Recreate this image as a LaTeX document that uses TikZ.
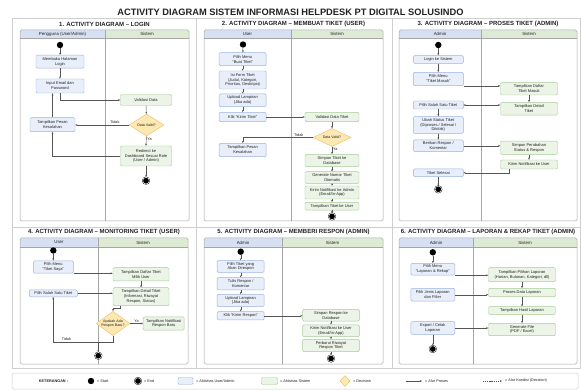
\documentclass[tikz,border=0pt]{standalone}
\usepackage{fontspec}
\setmainfont{Liberation Sans}
\usetikzlibrary{shapes.geometric,arrows.meta,calc}
\definecolor{hb}{HTML}{D6E0F2}
\definecolor{hg}{HTML}{DDEBD5}
\definecolor{ubf}{HTML}{E9EFFA}
\definecolor{ubd}{HTML}{9DB3DD}
\definecolor{sbf}{HTML}{EBF4E6}
\definecolor{sbd}{HTML}{A7CC98}
\definecolor{yfl}{HTML}{FDE8B4}
\definecolor{ydr}{HTML}{E9C46A}
\definecolor{lanec}{HTML}{A6A6A6}
\definecolor{framec}{HTML}{CFCFCF}
\definecolor{arrc}{HTML}{555555}
\definecolor{txt}{HTML}{222222}
\newcommand\nodefnt{\fontsize{4}{4.9}\selectfont}
\newcommand\decfnt{\fontsize{3.6}{4.4}\selectfont}
\newcommand\lblfnt{\fontsize{3.8}{4.5}\selectfont}
\newcommand\headfnt{\fontsize{4.4}{5}\selectfont}
\newcommand\ptitlefnt{\fontsize{6}{7}\selectfont\bfseries}
\newcommand\lanepair[9]{%
  \begin{scope}
    \clip[rounded corners=1.5pt] (#2,#5) rectangle (#4,#7);
    \fill[hb] (#2,#5) rectangle (#3,#6);
    \fill[hg] (#3,#5) rectangle (#4,#6);
    \fill[white] (#2,#6) rectangle (#4,#7);
  \end{scope}
  \draw[laneline] (#2,#6) -- (#4,#6);
  \draw[laneline] (#3,#5) -- (#3,#7);
  \draw[laneline, rounded corners=1.5pt] (#2,#5) rectangle (#4,#7);
  \node[lanehead] (#1l) at ({(#2+#3)/2},{(#5+#6)/2}) {#8};
  \node[lanehead] (#1r) at ({(#3+#4)/2},{(#5+#6)/2}) {#9};
}
\tikzset{
  wh/.style 2 args={minimum width=#1pt, minimum height=#2pt},
  ua/.style={draw=ubd, fill=ubf, rounded corners=1.2pt, line width=0.45pt, align=center, font=\nodefnt, inner sep=0.6pt, text=txt},
  sa/.style={draw=sbd, fill=sbf, rounded corners=1.2pt, line width=0.45pt, align=center, font=\nodefnt, inner sep=0.6pt, text=txt},
  dec/.style={diamond, draw=ydr, fill=yfl, line width=0.45pt, align=center, font=\decfnt, inner sep=0pt, aspect=1.4, text=txt},
  startc/.style={circle, fill=black, minimum size=6.4pt, inner sep=0pt},
  endc/.style={circle, fill=black, draw=black, double=white, double distance=0.5pt, line width=0.4pt, minimum size=6.6pt, inner sep=0pt},
  arr/.style={draw=arrc, line width=0.4pt, -{Stealth[length=2.2pt,width=1.8pt]}},
  darr/.style={draw=arrc, line width=0.4pt, {Stealth[length=2.2pt,width=1.8pt]}-{Stealth[length=2.2pt,width=1.8pt]}},
  lbl/.style={font=\lblfnt, text=txt, inner sep=0.8pt},
  laneline/.style={draw=lanec, line width=0.5pt},
  lanehead/.style={font=\headfnt, text=txt, inner sep=0pt},
  frame/.style={draw=framec, line width=0.5pt},
  ptitle/.style={font=\ptitlefnt, text=txt, inner sep=0pt},
  lgt/.style={font=\lblfnt, text=txt, inner sep=0pt, anchor=west},
}
\begin{document}
\begin{tikzpicture}[x=1pt,y=-1pt]
\useasboundingbox (0,0) rectangle (581,390);
\fill[white] (0,0) rectangle (581,390);
% main title
\node[font=\fontsize{9.3}{11}\selectfont\bfseries, text=txt, inner sep=0pt] (title) at (290.5,12) {ACTIVITY DIAGRAM SISTEM INFORMASI HELPDESK PT DIGITAL SOLUSINDO};
% panel frames
\draw[frame] (12,18) rectangle (196,227);
\draw[frame] (196,18) rectangle (392,227);
\draw[frame] (392,18) rectangle (580,227);
\draw[frame] (12,227) rectangle (196,368);
\draw[frame] (196,227) rectangle (392,368);
\draw[frame] (392,227) rectangle (580,368);
% panel titles
\node[ptitle] (t1) at (104.5,24) {1. ACTIVITY DIAGRAM – LOGIN};
\node[ptitle] (t2) at (293.5,24) {2. ACTIVITY DIAGRAM – MEMBUAT TIKET (USER)};
\node[ptitle] (t3) at (488,24) {3. ACTIVITY DIAGRAM – PROSES TIKET (ADMIN)};
\node[ptitle] (t4) at (104,232) {4. ACTIVITY DIAGRAM – MONITORING TIKET (USER)};
\node[ptitle] (t5) at (293.5,232) {5. ACTIVITY DIAGRAM – MEMBERI RESPON (ADMIN)};
\node[ptitle] (t6) at (488,232) {6. ACTIVITY DIAGRAM – LAPORAN \& REKAP TIKET (ADMIN)};
% lanes
\lanepair{p1}{20}{105}{189}{30}{38.5}{221}{Pengguna (User/Admin)}{Sistem}
\lanepair{p2}{204}{291}{383}{30}{38.5}{221}{User}{Sistem}
\lanepair{p3}{399}{481}{577}{30}{38.5}{221}{Admin}{Sistem}
\lanepair{p4}{20}{98}{188}{238}{247}{364}{User}{Sistem}
\lanepair{p5}{204}{282}{383}{238}{247}{364}{Admin}{Sistem}
\lanepair{p6}{399}{473}{577}{238}{247}{364}{Admin}{Sistem}

% ---------- Panel 1 ----------
\node[startc] (p1s) at (60,45) {};
\node[ua, wh={48}{13}] (p1a) at (60,61.7) {Membuka Halaman\\Login};
\node[ua, wh={48}{14}] (p1b) at (60,86) {Input Email dan\\Password};
\node[sa, wh={51}{11}] (p1c) at (146,100) {Validasi Data};
\node[dec, wh={35}{22}] (p1d) at (146.5,125) {Data Valid?};
\node[ua, wh={45}{14}] (p1e) at (52.5,124.7) {Tampilkan Pesan\\Kesalahan};
\node[sa, wh={51}{20}] (p1f) at (146,156) {Redirect ke\\Dashboard Sesuai Role\\(User / Admin)};
\node[endc] (p1z) at (146,180.7) {};
\draw[arr] (p1s) -- (p1a);
\draw[arr] (p1a) -- (p1b);
\draw[arr] (p1b.south) |- (p1c.west);
\draw[arr] (p1c) -- (p1d);
\draw[arr] (p1d.west) -- node[lbl, above, pos=0.26] {Tidak} (p1d.west -| p1e.east);
\draw[arr] (p1e.north) -- (p1e.north |- p1b.south);
\draw[arr] (p1d.south) -- node[lbl, right, pos=0.35] {Ya} (p1f.north);
\draw[arr] (p1f.west) -| (p1e.south);
\draw[arr] (p1f) -- (p1z);

% ---------- Panel 2 ----------
\node[startc] (p2s) at (243,44.5) {};
\node[ua, wh={47}{13}] (p2a) at (242.7,59.2) {Pilih Menu\\“Buat Tiket”};
\node[ua, wh={47}{18}] (p2b) at (242.7,80) {Isi Form Tiket\\(Judul, Kategori,\\Prioritas, Deskripsi)};
\node[ua, wh={47}{12.7}] (p2c) at (242.7,100.3) {Upload Lampiran\\(Jika ada)};
\node[ua, wh={47}{9.3}] (p2d) at (242.7,117) {Klik “Kirim Tiket”};
\node[sa, wh={54}{9.3}] (p2e) at (332,117) {Validasi Data Tiket};
\node[dec, wh={38}{18}] (p2f) at (332,137.5) {Data Valid?};
\node[ua, wh={47}{13.4}] (p2g) at (242.7,150) {Tampilkan Pesan\\Kesalahan};
\node[sa, wh={54}{12.4}] (p2h) at (332,160.5) {Simpan Tiket ke\\Database};
\node[sa, wh={54}{11.6}] (p2i) at (332,177.5) {Generate Nomor Tiket\\Otomatis};
\node[sa, wh={54}{13}] (p2j) at (332,192.5) {Kirim Notifikasi ke Admin\\(Email/In-App)};
\node[sa, wh={54}{7.7}] (p2k) at (332,206.2) {Tampilkan Tiket ke User};
\node[endc] (p2z) at (332,216.4) {};
\draw[arr] (p2s) -- (p2a);
\draw[arr] (p2a) -- (p2b);
\draw[arr] (p2b) -- (p2c);
\draw[arr] (p2c) -- (p2d);
\draw[arr] (p2d) -- (p2e);
\draw[arr] (p2e) -- (p2f);
\draw[arr] (p2f.west) -| node[lbl, above, pos=0.1] {Tidak} (p2g.north);
\draw[arr] (p2f.south) -- node[lbl, right, pos=0.3] {Ya} (p2h.north);
\draw[arr] (p2h) -- (p2i);
\draw[arr] (p2i) -- (p2j);
\draw[arr] (p2j) -- (p2k);
\draw[arr] (p2k) -- (p2z);

% ---------- Panel 3 ----------
\node[startc] (p3s) at (438.3,45) {};
\node[ua, wh={50}{7.7}] (p3a) at (438.3,59.5) {Login ke Sistem};
\node[ua, wh={50}{13.4}] (p3b) at (438.3,79) {Pilih Menu\\“Tiket Masuk”};
\node[sa, wh={57}{12.4}] (p3c) at (529,88.8) {Tampilkan Daftar\\Tiket Masuk};
\node[ua, wh={50}{8}] (p3d) at (438.3,105) {Pilih Salah Satu Tiket};
\node[sa, wh={57}{12.7}] (p3e) at (529,108.7) {Tampilkan Detail\\Tiket};
\node[ua, wh={50}{16.7}] (p3f) at (438.3,125) {Ubah Status Tiket\\(Diproses / Selesai /\\Ditolak)};
\node[ua, wh={50}{11.7}] (p3g) at (438.3,145.8) {Berikan Respon /\\Komentar};
\node[sa, wh={57}{13.3}] (p3h) at (529,147.7) {Simpan Perubahan\\Status \& Respon};
\node[sa, wh={57}{9}] (p3i) at (529,164.5) {Kirim Notifikasi ke User};
\node[ua, wh={50}{7.7}] (p3j) at (438.3,172.8) {Tiket Selesai};
\node[endc] (p3z) at (438.3,189.3) {};
\draw[arr] (p3s) -- (p3a);
\draw[arr] (p3a) -- (p3b);
\draw[arr] (p3b.south east) -- (p3b.south east -| p3c.west);
\draw[arr] (p3c) -- (p3e);
\draw[darr] (p3d.east) -- (p3d.east -| p3e.west);
\draw[arr] (p3d) -- (p3f);
\draw[arr] (p3f) -- (p3g);
\draw[arr] (p3g.east) -- (p3g.east -| p3h.west);
\draw[arr] (p3h) -- (p3i);
\draw[arr] ([xshift=-20pt]p3i.south) |- (p3j.east);
\draw[arr] (p3j) -- (p3z);

% ---------- Panel 4 ----------
\node[startc] (p4s) at (53.3,250.5) {};
\node[ua, wh={40}{12.3}] (p4a) at (53.3,267) {Pilih Menu\\“Tiket Saya”};
\node[sa, wh={56}{13.3}] (p4b) at (141,274.3) {Tampilkan Daftar Tiket\\Milik User};
\node[ua, wh={48}{7}] (p4c) at (53.3,293.3) {Pilih Salah Satu Tiket};
\node[sa, wh={56}{18}] (p4d) at (141,296.7) {Tampilkan Detail Tiket\\(Informasi, Riwayat\\Respon, Status)};
\node[dec, wh={31}{24}] (p4e) at (113,323.5) {Apakah Ada\\Respon Baru?};
\node[sa, wh={41}{13.3}] (p4f) at (163.7,323.5) {Tampilkan Notifikasi\\Respon Baru};
\node[endc] (p4z) at (98.3,355.7) {};
\coordinate (p4t) at (113,341.7);
\coordinate (p4u) at (98.3,341.7);
\draw[arr] (p4s) -- (p4a);
\draw[arr] (p4a.south east) -- (p4a.south east -| p4b.west);
\draw[arr] (p4b) -- (p4d);
\draw[arr] (p4c.east) -- (p4c.east -| p4d.west);
\draw[arr] ([xshift=7pt]p4d.south west) -- ++(0,2) -| (p4e.north);
\draw[arr] (p4e.east) -- node[lbl, above] {Ya} (p4e.east -| p4f.west);
\draw[arr] (p4e.south) -- (p4t) -| node[lbl, above, pos=0.39] {Tidak} (p4c.south);
\draw[arr] (p4u) -- (p4z);

% ---------- Panel 5 ----------
\node[startc] (p5s) at (240.7,251.7) {};
\node[ua, wh={47}{11.7}] (p5a) at (240.7,266.5) {Pilih Tiket yang\\Akan Direspon};
\node[ua, wh={47}{12.3}] (p5b) at (240.7,283.8) {Tulis Respon /\\Komentar};
\node[ua, wh={47}{12.3}] (p5c) at (240.7,300.5) {Upload Lampiran\\(Jika ada)};
\node[ua, wh={47}{8.3}] (p5d) at (240.7,315.8) {Klik “Kirim Respon”};
\node[sa, wh={56.7}{11.7}] (p5e) at (331,315.2) {Simpan Respon ke\\Database};
\node[sa, wh={56.7}{11.7}] (p5f) at (331,330.8) {Kirim Notifikasi ke User\\(Email/In-App)};
\node[sa, wh={56.7}{12.3}] (p5g) at (331,345.5) {Perbarui Riwayat\\Respon Tiket};
\node[endc] (p5z) at (331,358.5) {};
\draw[arr] (p5s) -- (p5a);
\draw[arr] (p5a) -- (p5b);
\draw[arr] (p5b) -- (p5c);
\draw[arr] (p5c) -- (p5d);
\draw[arr] (p5d.east) -- (p5d.east -| p5e.west);
\draw[arr] (p5e) -- (p5f);
\draw[arr] (p5f) -- (p5g);
\draw[arr] (p5g) -- (p5z);

% ---------- Panel 6 ----------
\node[startc] (p6s) at (432.8,252.3) {};
\node[ua, wh={44}{11.7}] (p6a) at (432.8,269.2) {Pilih Menu\\“Laporan \& Rekap”};
\node[sa, wh={67}{14}] (p6b) at (522,274.7) {Tampilkan Pilihan Laporan\\(Harian, Bulanan, Kategori, dll)};
\node[ua, wh={44}{12.7}] (p6c) at (432.8,294.7) {Pilih Jenis Laporan\\dan Filter};
\node[sa, wh={67}{8.3}] (p6d) at (522,292.5) {Proses Data Laporan};
\node[sa, wh={67}{7.7}] (p6e) at (522,310.5) {Tampilkan Hasil Laporan};
\node[ua, wh={44}{12.7}] (p6f) at (432.8,328) {Export / Cetak\\Laporan};
\node[sa, wh={67}{12.3}] (p6g) at (522,329.5) {Generate File\\(PDF / Excel)};
\node[endc] (p6z) at (432.8,349) {};
\draw[arr] (p6s) -- (p6a);
\draw[arr] (p6a.south east) -- (p6a.south east -| p6b.west);
\draw[arr] (p6b) -- (p6d);
\draw[arr] (p6c.east) -- (p6c.east -| p6d.west);
\draw[arr] (p6d) -- (p6e);
\draw[arr] (p6e) -- (p6g);
\draw[arr] (p6f.east) -- (p6f.east -| p6g.west);
\draw[arr] (p6f) -- (p6z);

% ---------- Legend ----------
\draw[frame, rounded corners=1.5pt] (12,373) rectangle (578,389);
\node[font=\fontsize{3.8}{4.5}\selectfont\bfseries, text=txt, inner sep=0pt] (lk) at (53.5,381) {KETERANGAN :};
\node[startc] (ls) at (91,381) {};
\node[lgt] (lst) at (97,381) {= Start};
\node[endc] (le) at (138,381) {};
\node[lgt] (let) at (144,381) {= End};
\node[ua, wh={15}{7}] (lu) at (185.5,381) {};
\node[lgt] (lut) at (196,381) {= Aktivitas User/Admin};
\node[sa, wh={16}{7}] (lsy) at (269.5,381) {};
\node[lgt] (lsyt) at (280,381) {= Aktivitas Sistem};
\node[dec, wh={10}{11}] (ld) at (345,381) {};
\node[lgt] (ldt) at (353,381) {= Decision};
\coordinate (la1) at (406,381);
\coordinate (la2) at (422,381);
\draw[arr] (la1) -- (la2);
\node[lgt] (lat) at (425,381) {= Alur Proses};
\coordinate (lb1) at (483,381);
\coordinate (lb2) at (502,381);
\draw[arr, dashed, dash pattern=on 1.2pt off 0.9pt] (lb1) -- (lb2);
\node[lgt] (lbt) at (505,381) {= Alur Kondisi (Decision)};
\end{tikzpicture}
\end{document}
